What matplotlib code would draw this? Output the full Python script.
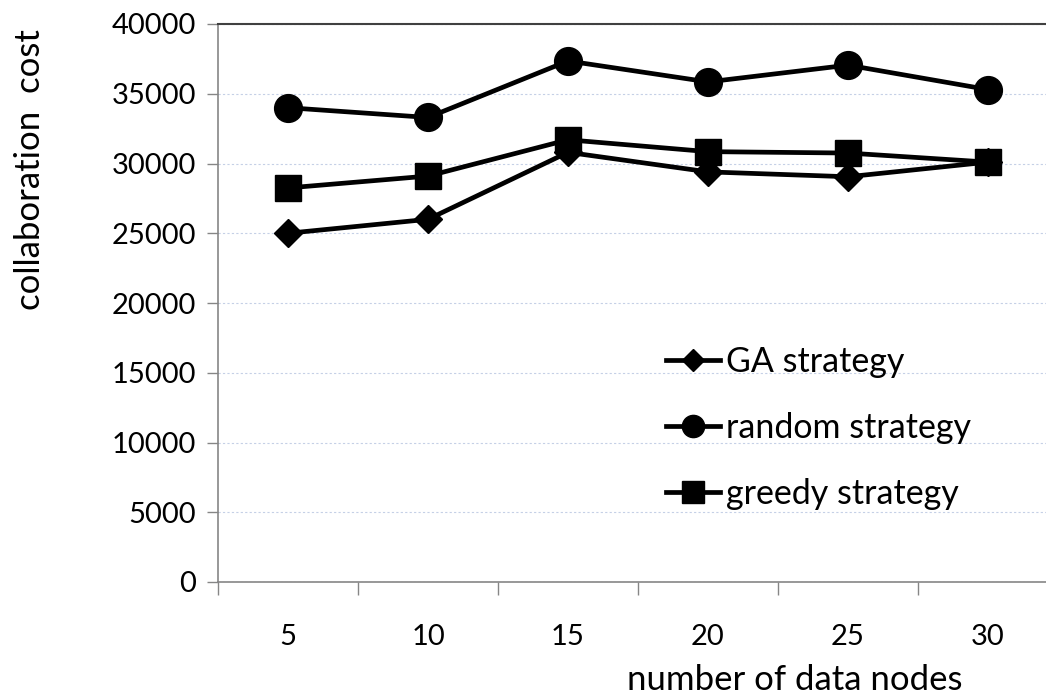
import matplotlib
matplotlib.use("Agg")
import matplotlib.pyplot as plt
from matplotlib.ticker import FixedLocator

categories = ["5", "10", "15", "20", "25", "30"]
ga = [25000, 26000, 30800, 29400, 29050, 30100]
random_s = [34000, 33300, 37350, 35850, 37050, 35300]
greedy = [28250, 29100, 31700, 30850, 30750, 30100]
yticks = [0, 5000, 10000, 15000, 20000, 25000, 30000, 35000, 40000]

plt.rcParams['font.family'] = ['Lato', 'DejaVu Sans']

fig = plt.figure(figsize=(10.46, 6.96), dpi=100)
ax = fig.add_axes([218/1046, 1-582/696, 840/1046, 558/696])

x = list(range(len(categories)))
lw = 3.4
ax.plot(x, ga, color='black', lw=lw, marker='D', ms=14, label='GA strategy', zorder=3, clip_on=False)
ax.plot(x, random_s, color='black', lw=lw, marker='o', ms=20, label='random strategy', zorder=3, clip_on=False)
ax.plot(x, greedy, color='black', lw=lw, marker='s', ms=19, label='greedy strategy', zorder=3, clip_on=False)

ax.set_xlim(-0.5, len(categories) - 0.5)
ax.set_ylim(0, 40000)
ax.set_yticks(yticks)
ax.set_yticklabels([str(v) for v in yticks])
ax.set_xticks(x)
ax.set_xticklabels(categories)
ax.xaxis.set_minor_locator(FixedLocator([i - 0.5 for i in range(len(categories) + 1)]))
ax.tick_params(axis='x', which='major', length=0, pad=30, labelsize=21)
ax.tick_params(axis='x', which='minor', length=9, width=1, color='#868686', direction='out')
ax.tick_params(axis='y', length=8, width=1, color='#868686', pad=8, labelsize=21)

ax.grid(axis='y', color='#c5d0e6', lw=0.8, linestyle=(0, (2, 2)), zorder=0)
ax.set_axisbelow(True)

for s in ['left', 'bottom']:
    ax.spines[s].set_color('#868686')
    ax.spines[s].set_linewidth(1.2)
ax.spines['right'].set_visible(False)
ax.spines['top'].set_color('#404040')
ax.spines['top'].set_linewidth(1.5)

leg = ax.legend(loc='upper left', bbox_to_anchor=(666/1046, 1-346/696), bbox_transform=fig.transFigure,
                frameon=False, fontsize=24.5, markerscale=0.8, handlelength=1.6, handletextpad=0.15,
                labelspacing=1.0, borderpad=0, borderaxespad=0)

fig.text(30/1046, 1-170/696, 'collaboration  cost', rotation=90, ha='center', va='center', fontsize=25)
fig.text(795/1046, 1-680/696, 'number of data nodes', ha='center', va='center', fontsize=25)

fig.savefig('out.png', dpi=100)
